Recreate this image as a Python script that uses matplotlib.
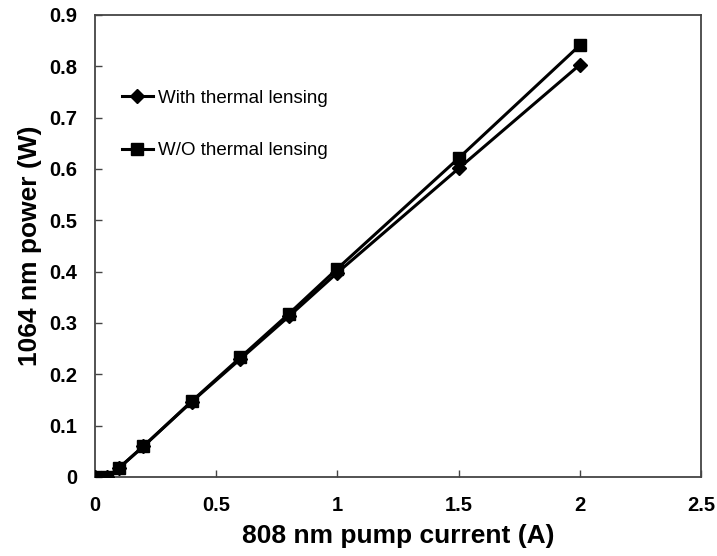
import matplotlib
matplotlib.use("Agg")
import matplotlib.pyplot as plt

# Pump current (A) and 1064 nm output power (W)
current = [0, 0.05, 0.1, 0.2, 0.4, 0.6, 0.8, 1.0, 1.5, 2.0]
power_with_lensing = [0, 0, 0.018, 0.06, 0.147, 0.230, 0.313, 0.398, 0.601, 0.803]
power_without_lensing = [0, 0, 0.018, 0.06, 0.148, 0.233, 0.318, 0.406, 0.621, 0.841]

x_ticks = [0, 0.5, 1, 1.5, 2, 2.5]
x_tick_labels = ["0", "0.5", "1", "1.5", "2", "2.5"]
y_ticks = [0, 0.1, 0.2, 0.3, 0.4, 0.5, 0.6, 0.7, 0.8, 0.9]
y_tick_labels = ["0", "0.1", "0.2", "0.3", "0.4", "0.5", "0.6", "0.7", "0.8", "0.9"]

plt.rcParams["font.family"] = ["Liberation Sans", "DejaVu Sans"]

fig = plt.figure(figsize=(7.17, 5.56), dpi=100)
ax = fig.add_axes([95 / 717, 79 / 556, 606 / 717, 462 / 556])

ax.plot(current, power_with_lensing, color="black", lw=2.2, marker="D",
        markersize=7.5, label="With thermal lensing", zorder=3)
ax.plot(current, power_without_lensing, color="black", lw=2.2, marker="s",
        markersize=9, label="W/O thermal lensing", zorder=3)

ax.set_xlim(0, 2.5)
ax.set_ylim(0, 0.9)
ax.set_xticks(x_ticks)
ax.set_xticklabels(x_tick_labels)
ax.set_yticks(y_ticks)
ax.set_yticklabels(y_tick_labels)

for lab in ax.get_xticklabels() + ax.get_yticklabels():
    lab.set_fontweight("bold")
    lab.set_fontsize(14.5)

ax.tick_params(direction="in", length=5, width=1, color="#444444")
ax.tick_params(axis="y", pad=13)
ax.tick_params(axis="x", pad=14)

for sp in ax.spines.values():
    sp.set_color("#444444")
    sp.set_linewidth(1.3)

ax.set_xlabel("808 nm pump current (A)", fontsize=19, fontweight="bold", labelpad=6)
ax.set_ylabel("1064 nm power (W)", fontsize=19, fontweight="bold", labelpad=5)

ax.legend(loc="upper left", bbox_to_anchor=(0.032, 0.855), frameon=False,
          fontsize=13.5, handlelength=1.65, handletextpad=0.25, labelspacing=1.9,
          borderaxespad=0)

fig.savefig("out.png", dpi=100)
